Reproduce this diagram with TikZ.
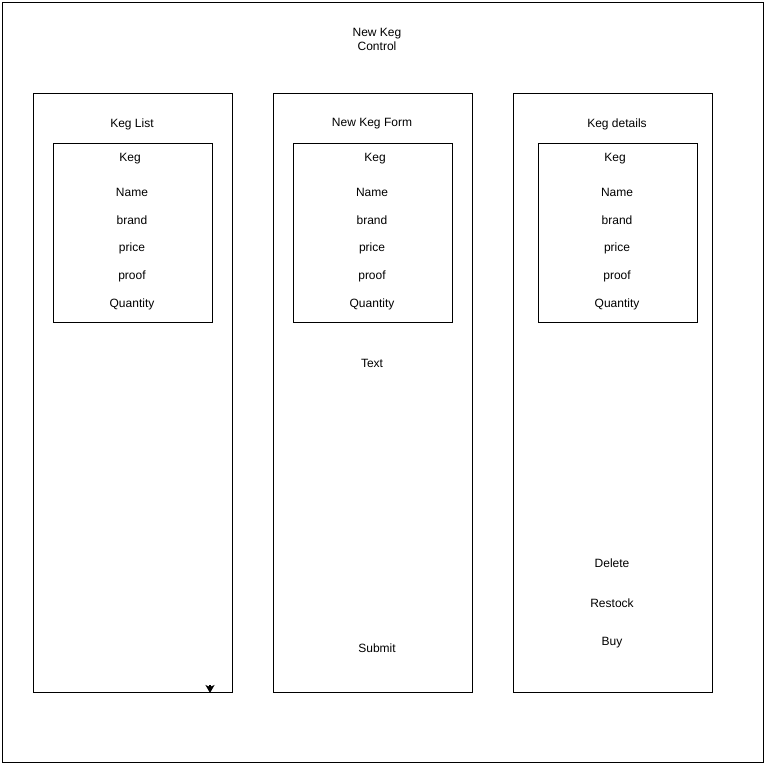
\documentclass[tikz,border=0pt]{standalone}
\usepackage{fontspec}
\setmainfont{Liberation Sans}
\usepackage{tikz}
\usetikzlibrary{arrows.meta,positioning}

\begin{document}
\begin{tikzpicture}[
			x=1pt,y=-1pt,
			% Component panels
			panel/.style={
				draw=black,
				line width=0.8pt
			},
			% Keg record boxes
			kegbox/.style={
				draw=black,
				line width=0.8pt
			},
			label/.style={
				font=\fontsize{12}{14}\selectfont,
				inner sep=0pt,
				align=center,
				yshift=-1pt
			},
			arrowTip/.style={
				-{Stealth[length=8pt,width=9pt,inset=2pt,fill=black]},
				line width=1.2pt
			}
			]
			
			% Canvas and outer frame
			\useasboundingbox (0,0) rectangle (765,764);
			\draw[panel] (2,2) rectangle (763,762);
			
			\node[label] (title) at (377,38) {New Keg\\Control};
			
			% Three component panels
			\draw[panel] (33,93) rectangle (232,692);
			\draw[panel] (273,93) rectangle (472,692);
			\draw[panel] (513,93) rectangle (712,692);
			
			\node[label] (listTitle) at (132,123) {Keg List};
			\node[label] (formTitle) at (372,123) {New Keg Form};
			\node[label] (detailTitle) at (617,123) {Keg details};
			
			% Keg record boxes
			\draw[kegbox] (53,143) rectangle (212,322);
			\draw[kegbox] (293,143) rectangle (452,322);
			\draw[kegbox] (538,143) rectangle (697,322);
			
			% Keg fields: list
			\node[label] (listKeg) at (130,158) {Keg};
			\node[label] (listName) at (132,191) {Name};
			\node[label] (listBrand) at (132,219) {brand};
			\node[label] (listPrice) at (132,247) {price};
			\node[label] (listProof) at (132,275) {proof};
			\node[label] (listQty) at (132,303) {Quantity};
			
			% Keg fields: form
			\node[label] (formKeg) at (375,158) {Keg};
			\node[label] (formName) at (372,191) {Name};
			\node[label] (formBrand) at (372,219) {brand};
			\node[label] (formPrice) at (372,247) {price};
			\node[label] (formProof) at (372,275) {proof};
			\node[label] (formQty) at (372,303) {Quantity};
			
			% Keg fields: details
			\node[label] (detailKeg) at (615,158) {Keg};
			\node[label] (detailName) at (617,191) {Name};
			\node[label] (detailBrand) at (617,219) {brand};
			\node[label] (detailPrice) at (617,247) {price};
			\node[label] (detailProof) at (617,275) {proof};
			\node[label] (detailQty) at (617,303) {Quantity};
			
			% Form controls
			\node[label] (formText) at (372,362) {Text};
			\node[label] (formSubmit) at (377,647) {Submit};
			
			% Detail actions
			\node[label] (detailDelete) at (612,562) {Delete};
			\node[label] (detailRestock) at (612,602) {Restock};
			\node[label] (detailBuy) at (612,642) {Buy};
			
			% Stray arrow head at the list panel foot
			\coordinate (tipStart) at (210,685);
			\coordinate (tipEnd) at (210,693);
			\draw[arrowTip] (tipStart) -- (tipEnd);
			
		\end{tikzpicture}
\end{document}
